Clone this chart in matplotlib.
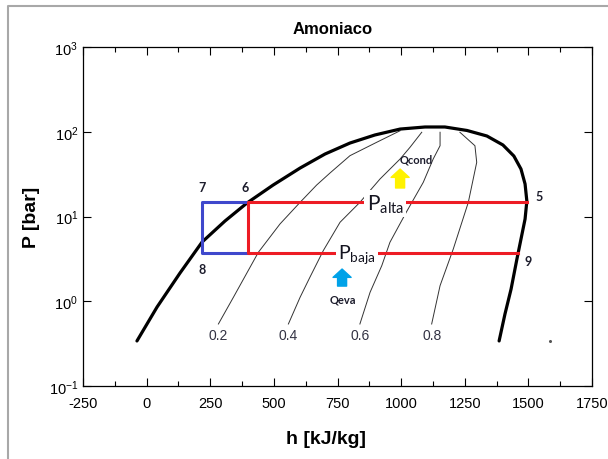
import numpy as np
import matplotlib
matplotlib.use("Agg")
from matplotlib import pyplot as plt
from matplotlib.ticker import MultipleLocator, NullLocator

plt.rcParams['font.family'] = ['Liberation Sans', 'DejaVu Sans']
plt.rcParams['axes.unicode_minus'] = False

# Saturation dome, h in kJ/kg, P in bar
dome_h = [-38, 41, 131, 218, 308, 394, 497, 603, 701, 799, 897, 996, 1094, 1172,
          1259, 1337, 1400, 1443, 1471, 1487, 1494, 1487, 1471, 1455, 1432, 1408, 1385]
dome_p = [0.340, 0.855, 2.15, 5.0, 8.85, 14.4, 23.5, 37.3, 54.6, 73.6, 91.6, 107.6, 113.8, 113.8,
          103.5, 89.1, 69.8, 51.7, 36.3, 24.2, 15.2, 9.33, 5.42, 3.15, 1.39, 0.706, 0.340]

# Constant quality lines
q_labels = ['0.2', '0.4', '0.6', '0.8']
q02_h = [282, 341, 439, 524, 603, 668, 720, 799, 904, 996]
q02_p = [0.539, 1.114, 3.78, 8.16, 14.7, 23.5, 32.5, 52.2, 75.1, 102.8]
q04_h = [557, 603, 642, 694, 760, 838, 917, 996, 1035, 1081]
q04_p = [0.539, 1.114, 1.93, 3.95, 8.55, 14.7, 27.7, 47.7, 65.6, 98.6]
q06_h = [838, 878, 924, 956, 1020, 1087, 1126, 1153, 1153]
q06_p = [0.539, 1.276, 2.63, 4.96, 11.2, 25.3, 47.7, 68.4, 98.6]
q08_h = [1120, 1153, 1205, 1264, 1297, 1290, 1231]
q08_p = [0.539, 1.527, 4.14, 14.7, 43.6, 68.4, 98.6]
q_lines = [(q02_h, q02_p), (q04_h, q04_p), (q06_h, q06_p), (q08_h, q08_p)]

# Cycle states
p_alta = 14.8
p_baja = 3.75
h7 = 218
h6 = 398
h5 = 1494
h9 = 1460

fig = plt.figure(figsize=(6.08, 4.6), dpi=100)
ax = fig.add_axes([83 / 608, 1 - 387 / 460, 509 / 608, 339 / 460])

ax.plot(dome_h, dome_p, color='black', lw=2.3, solid_capstyle='round',
        solid_joinstyle='round', zorder=3)
for (qh, qp), lab in zip(q_lines, q_labels):
    ax.plot(qh, qp, color='#333333', lw=0.7, zorder=2)
    ax.text(qh[0], 0.40, lab, ha='center', va='center', fontsize=10, color='#333344')

# blue box (7-6-8) and red cycle
ax.plot([h6, h7, h7, h6], [p_alta, p_alta, p_baja, p_baja], color='#3F48CC', lw=2.2, zorder=4)
ax.plot([h5, h6, h6, h9], [p_alta, p_alta, p_baja, p_baja], color='#ED1C24', lw=2.2, zorder=5)

ax.plot([1585], [0.342], 'o', color='#555555', ms=1.2)

lab_style = dict(fontsize=9, fontweight='bold', color='#1c1c2c', family='Lato')
ax.text(h7, 22, '7', ha='center', va='center', **lab_style)
ax.text(h6 - 10, 22, '6', ha='center', va='center', **lab_style)
ax.text(h7, 2.4, '8', ha='center', va='center', **lab_style)
ax.text(h5 + 50, 17.5, '5', ha='center', va='center', **lab_style)
ax.text(h9 + 40, 3.0, '9', ha='center', va='center', **lab_style)

box = dict(facecolor='white', edgecolor='none', pad=1.5)
ax.text(937, 14.3, r'P$_\mathregular{alta}$', ha='center', va='center', fontsize=15,
        family='Lato', color='#141420', bbox=box, zorder=6)
ax.text(826, 3.6, r'P$_\mathregular{baja}$', ha='center', va='center', fontsize=14,
        family='Lato', color='#141420', bbox=box, zorder=6)
ax.text(1060, 48, 'Qcond', ha='center', va='center', fontsize=8, fontweight='bold',
        family='Lato', color='#1c1c2c')
ax.text(770, 1.05, 'Qeva', ha='center', va='center', fontsize=8, fontweight='bold',
        family='Lato', color='#1c1c2c')

arrow_yel = dict(arrowstyle='simple,head_length=0.6,head_width=1.3,tail_width=0.65',
                 color='#FFF200', mutation_scale=10, shrinkA=0, shrinkB=0)
arrow_blu = dict(arrowstyle='simple,head_length=0.6,head_width=1.3,tail_width=0.65',
                 color='#00A2E8', mutation_scale=10, shrinkA=0, shrinkB=0)
ax.annotate('', xy=(996, 36.3), xytext=(996, 21.7), arrowprops=arrow_yel)
ax.annotate('', xy=(768, 2.4), xytext=(768, 1.51), arrowprops=arrow_blu)

ax.set_yscale('log')
ax.set_xlim(-250, 1750)
ax.set_ylim(0.1, 1000)
ax.xaxis.set_major_locator(MultipleLocator(250))
ax.xaxis.set_minor_locator(MultipleLocator(125))
ax.yaxis.set_minor_locator(NullLocator())
ax.tick_params(which='both', direction='in', top=True, right=True, labelsize=10.5)
ax.tick_params(which='major', length=6, width=0.8)
ax.tick_params(which='minor', length=3.5, width=0.8)
ax.tick_params(axis='x', pad=7)
for s in ax.spines.values():
    s.set_linewidth(0.9)

ax.set_title('Amoniaco', fontsize=12, fontweight='bold', pad=10, x=0.49)
ax.set_xlabel('h [kJ/kg]', fontsize=14, fontweight='bold')
ax.set_ylabel('P [bar]', fontsize=14, fontweight='bold')
ax.xaxis.set_label_coords(0.477, -0.13)
ax.yaxis.set_label_coords(-0.085, 0.5)

# window frame lines (top and left)
fig.add_artist(plt.Line2D([8 / 608, 8 / 608, 1.0], [0.0, 1 - 7 / 460, 1 - 7 / 460],
                          transform=fig.transFigure, color='#a8a8a8', lw=1.5))

fig.savefig('out.png', dpi=100)
